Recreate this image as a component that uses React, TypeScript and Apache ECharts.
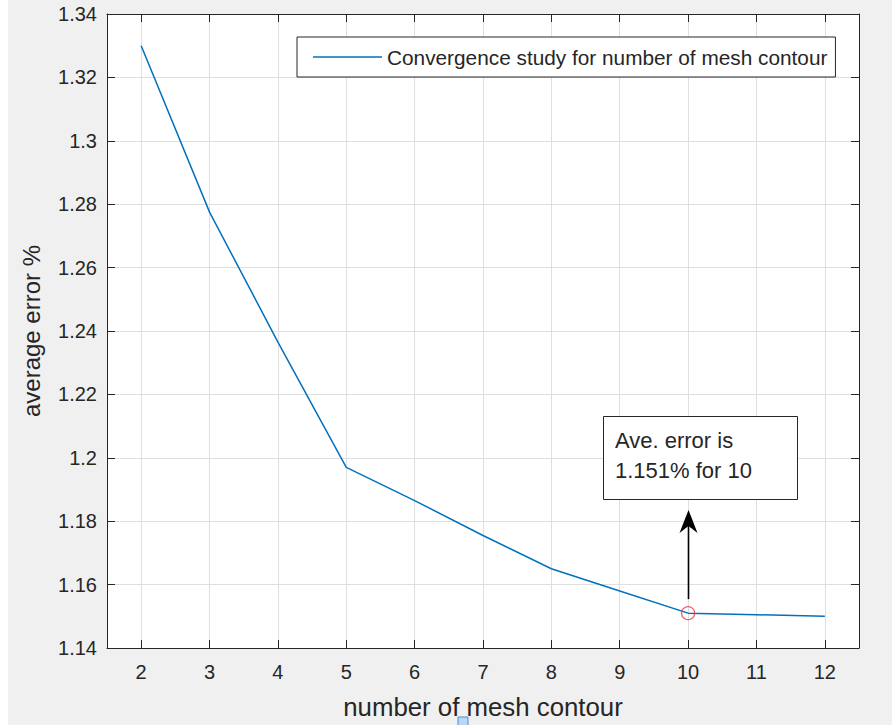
import React, { useEffect, useRef } from "react";
import * as echarts from "echarts";

const meshContours = [2, 3, 4, 5, 6, 7, 8, 9, 10, 11, 12];
const averageError = [1.33, 1.2775, 1.2365, 1.197, 1.1865, 1.1755, 1.165, 1.158, 1.151, 1.1505, 1.15];
const xTicks = [2, 3, 4, 5, 6, 7, 8, 9, 10, 11, 12];
const highlightX = 10;
const highlightY = 1.151;
const seriesName = "Convergence study for number of mesh contour";
const annotationLines = ["Ave. error is", "1.151% for 10"];

const FONT = "Liberation Sans, Arial, Helvetica, sans-serif";
const INK = "#262626";
const GRID = "#dfdfdf";
const LINE = "#0072BD";

export default function App() {
  const ref = useRef<HTMLDivElement>(null);
  useEffect(() => {
    if (!ref.current) return;
    const chart = echarts.init(ref.current, null, { renderer: "svg" });
    const axisLine = { show: true, onZero: false, lineStyle: { color: INK, width: 1 } };
    const tick = { show: true, inside: true, length: 8, lineStyle: { color: INK, width: 1 } };
    chart.setOption({
      animation: false,
      backgroundColor: "#f0f0f0",
      textStyle: { fontFamily: FONT },
      grid: { left: 107, right: 33, top: 14, bottom: 77, show: true, backgroundColor: "#ffffff", borderWidth: 0 },
      legend: {
        data: [{ name: seriesName, icon: "rect" }],
        left: 297,
        top: 37,
        backgroundColor: "#ffffff",
        borderColor: INK,
        borderWidth: 1,
        borderRadius: 0,
        padding: [9, 8, 9, 16],
        itemWidth: 69,
        itemHeight: 1.6,
        itemStyle: { color: LINE, borderWidth: 0 },
        textStyle: { fontSize: 20.8, color: INK, fontFamily: FONT, lineHeight: 22 },
      },
      xAxis: [
        {
          type: "value",
          min: 1.5,
          max: 12.5,
          position: "bottom",
          name: "number of mesh contour",
          nameLocation: "middle",
          nameGap: 46,
          nameTextStyle: { fontSize: 25.8, color: INK, fontFamily: FONT, verticalAlign: "top" },
          axisLine,
          axisTick: { ...tick, customValues: xTicks },
          axisLabel: { customValues: xTicks, fontSize: 20, color: INK, margin: 14, fontFamily: FONT },
          splitLine: { show: true, lineStyle: { color: GRID, width: 1 } },
        },
        {
          type: "value",
          min: 1.5,
          max: 12.5,
          position: "top",
          axisLine,
          axisTick: { ...tick, customValues: xTicks },
          axisLabel: { show: false, customValues: xTicks },
          splitLine: { show: false },
        },
      ],
      yAxis: [
        {
          type: "value",
          min: 1.14,
          max: 1.34,
          interval: 0.02,
          position: "left",
          name: "average error %",
          nameLocation: "middle",
          nameGap: 64,
          nameTextStyle: { fontSize: 24, color: INK, fontFamily: FONT },
          axisLine,
          axisTick: tick,
          axisLabel: {
            fontSize: 20,
            color: INK,
            margin: 10,
            fontFamily: FONT,
            formatter: (v: number) => String(+v.toFixed(2)),
          },
          splitLine: { show: true, lineStyle: { color: GRID, width: 1 } },
        },
        {
          type: "value",
          min: 1.14,
          max: 1.34,
          interval: 0.02,
          position: "right",
          axisLine,
          axisTick: tick,
          axisLabel: { show: false },
          splitLine: { show: false },
        },
      ],
      series: [
        {
          name: seriesName,
          type: "line",
          xAxisIndex: 0,
          yAxisIndex: 0,
          symbol: "none",
          lineStyle: { color: LINE, width: 1.5 },
          itemStyle: { color: LINE },
          data: meshContours.map((x, i) => [x, averageError[i]]),
          z: 3,
        },
        {
          name: "highlight",
          type: "scatter",
          xAxisIndex: 0,
          yAxisIndex: 0,
          symbol: "circle",
          symbolSize: 13,
          itemStyle: { color: "rgba(0,0,0,0)", borderColor: "#e8383d", borderWidth: 1.3 },
          data: [[highlightX, highlightY]],
          z: 4,
        },
      ],
    });

    const p = chart.convertToPixel({ xAxisIndex: 0, yAxisIndex: 0 }, [highlightX, highlightY]) as number[];
    const ax = Math.round(p[0]) + 0.5;
    const tipY = 510;
    chart.setOption({
      graphic: [
        { type: "rect", shape: { x: 0, y: 0, width: 8, height: 725 }, style: { fill: "#ffffff" }, silent: true },
        {
          type: "rect",
          shape: { x: 603.5, y: 416.5, width: 194, height: 83 },
          style: { fill: "#ffffff", stroke: INK, lineWidth: 1 },
          z: 10,
        },
        {
          type: "text",
          x: 615,
          y: 425,
          style: {
            text: annotationLines.join("\n"),
            font: `22px ${FONT}`,
            lineHeight: 30,
            fill: INK,
            verticalAlign: "top",
            align: "left",
          },
          z: 11,
        },
        {
          type: "line",
          shape: { x1: ax, y1: p[1] - 14, x2: ax, y2: tipY + 14 },
          style: { stroke: "#000000", lineWidth: 1.6 },
          z: 10,
        },
        {
          type: "polygon",
          shape: { points: [[ax, tipY], [ax - 9, tipY + 23], [ax, tipY + 16], [ax + 9, tipY + 23]] },
          style: { fill: "#000000" },
          z: 10,
        },
        {
          type: "rect",
          shape: { x: 458, y: 717, width: 10, height: 10 },
          style: { fill: "#b9d7f2", stroke: "#4a90d9", lineWidth: 1 },
          z: 10,
        },
      ],
    });
    return () => chart.dispose();
  }, []);
  return (
    <div style={{ position: "absolute", left: 0, top: 0, width: 892, height: 725 }}>
      <div ref={ref} style={{ width: 892, height: 725 }} />
    </div>
  );
}
